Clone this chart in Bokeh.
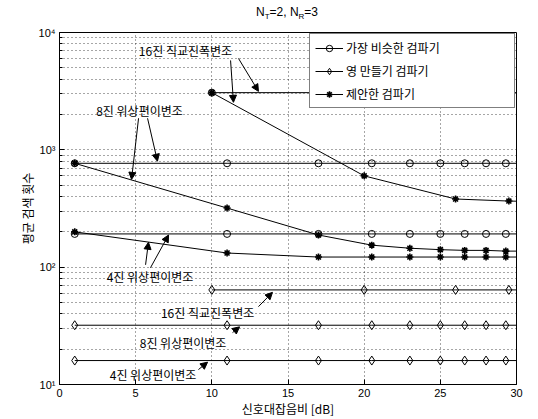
from bokeh.plotting import figure
from bokeh.layouts import column
from bokeh.models import (Range1d, FixedTicker, CustomJSTickFormatter, Legend, LegendItem,
                          Label, Arrow, NormalHead, Div)
from bokeh.embed import file_html
from bokeh.resources import INLINE

# ---------------- data ----------------
snr_psk = [1, 11, 17, 20.5, 23, 25, 26.6, 28, 29.3, 30.4]
snr_qam = [10, 20, 26, 29.5, 31.5]

ml_qam16 = [3072, 3072, 3072, 3072, 3072]
ml_psk8 = [768, 768, 768, 768, 768, 768, 768, 768, 768, 768]
ml_psk4 = [192, 192, 192, 192, 192, 192, 192, 192, 192, 192]

zf_qam16 = [64, 64, 64, 64, 64]
zf_psk8 = [32, 32, 32, 32, 32, 32, 32, 32, 32, 32]
zf_psk4 = [16, 16, 16, 16, 16, 16, 16, 16, 16, 16]

prop_qam16 = [3072, 600, 381, 366, 362]
prop_psk8 = [768, 319, 188, 154, 145, 141, 139, 139, 137, 137]
prop_psk4 = [200, 132, 122, 122, 122, 122, 122, 122, 122, 122]

legend_labels = ["가장 비슷한 검파기", "영 만들기 검파기", "제안한 검파기"]
x_ticks = [0, 5, 10, 15, 20, 25, 30]
y_ticks = [10, 100, 1000, 10000]
x_label = "신호대잡음비 [dB]"
y_label = "평균 검색 횟수"
title_html = ('N<sub style="font-size:8px">T</sub>=2, '
              'N<sub style="font-size:8px">R</sub>=3')

# annotation texts
ann_qam = "16진 직교진폭변조"
ann_psk8 = "8진 위상편이변조"
ann_psk4 = "4진 위상편이변조"

# ---------------- title (HTML for subscripts) ----------------
title = Div(text='<div style="position:relative; left:256px; top:4px; '
                 'font-family:\'Liberation Sans\'; font-size:12px; line-height:14px; '
                 'color:black; white-space:nowrap;">' + title_html + '</div>',
            width=538, height=20, margin=0)

# ---------------- figure ----------------
p = figure(width=538, height=399, output_backend="svg", toolbar_location=None,
           y_axis_type="log", x_range=Range1d(0, 30), y_range=Range1d(10, 10000),
           min_border_left=59, min_border_right=22, min_border_top=12, min_border_bottom=34)
p.background_fill_color = "white"
p.border_fill_color = "white"
p.outline_line_color = "black"
p.outline_line_width = 1

p.xaxis.ticker = FixedTicker(ticks=x_ticks)
minor = [m * 10 ** k for k in (1, 2, 3) for m in range(2, 10)]
p.yaxis.ticker = FixedTicker(ticks=y_ticks, minor_ticks=minor)
p.yaxis.formatter = CustomJSTickFormatter(code="""
const e = Math.round(Math.log10(tick));
const s = {1: '\u00b9', 2: '\u00b2', 3: '\u00b3', 4: '\u2074'};
return '10' + s[e];
""")

for ax in (p.xaxis, p.yaxis):
    ax.axis_line_color = "black"
    ax.major_tick_line_color = "black"
    ax.minor_tick_line_color = "black"
    ax.major_tick_in = 5
    ax.major_tick_out = 0
    ax.minor_tick_in = 3
    ax.minor_tick_out = 0
    ax.major_label_text_font = "Liberation Sans"
    ax.major_label_text_font_size = "11px"
    ax.major_label_text_color = "black"
    ax.axis_label_text_font = "Noto Sans CJK KR"
    ax.axis_label_text_font_size = "12px"
    ax.axis_label_text_font_style = "normal"
    ax.axis_label_text_color = "black"

p.xaxis.axis_label = x_label
p.yaxis.axis_label = y_label
p.xaxis.major_label_standoff = 4
p.xaxis.axis_label_standoff = 0
p.yaxis.major_label_standoff = 4
p.yaxis.axis_label_standoff = 0

p.xgrid.grid_line_color = "black"
p.xgrid.grid_line_dash = "1 3"
p.xgrid.grid_line_alpha = 0.7
p.ygrid.grid_line_color = "black"
p.ygrid.grid_line_dash = "1 3"
p.ygrid.grid_line_alpha = 0.7
p.ygrid.minor_grid_line_color = "black"
p.ygrid.minor_grid_line_dash = "1 3"
p.ygrid.minor_grid_line_alpha = 0.7

LW = 1

def series(x, y, marker, size, fill=None, mlw=1):
    ln = p.line(x, y, line_color="black", line_width=LW)
    sc = p.scatter(x, y, marker=marker, size=size, line_color="black",
                   fill_color=fill, line_width=mlw)
    return ln, sc

ml = [series(snr_qam, ml_qam16, "circle", 7),
      series(snr_psk, ml_psk8, "circle", 7),
      series(snr_psk, ml_psk4, "circle", 7)]
zf = [series(snr_qam, zf_qam16, "diamond", 9),
      series(snr_psk, zf_psk8, "diamond", 9),
      series(snr_psk, zf_psk4, "diamond", 9)]
pr = [series(snr_qam, prop_qam16, "asterisk", 7, mlw=1.6),
      series(snr_psk, prop_psk8, "asterisk", 7, mlw=1.6),
      series(snr_psk, prop_psk4, "asterisk", 7, mlw=1.6)]

legend = Legend(items=[LegendItem(label=legend_labels[0], renderers=list(ml[1])),
                       LegendItem(label=legend_labels[1], renderers=list(zf[1])),
                       LegendItem(label=legend_labels[2], renderers=list(pr[1]))],
                location="top_right", margin=1, padding=5, spacing=6,
                glyph_width=28, glyph_height=16, label_height=16, label_width=163,
                label_standoff=3, border_line_color="black", border_line_width=1,
                background_fill_color="white", background_fill_alpha=1,
                label_text_font="Noto Sans CJK KR", label_text_font_size="12px",
                label_text_color="black")
p.add_layout(legend)

# ---------------- text annotations with arrows ----------------
def note(x, y, text):
    p.add_layout(Label(x=x, y=y, text=text, text_font="Noto Sans CJK KR",
                       text_font_size="12px", text_align="center",
                       text_baseline="middle", text_color="black"))

def arrow(x0, y0, x1, y1):
    p.add_layout(Arrow(x_start=x0, y_start=y0, x_end=x1, y_end=y1,
                       line_color="black", line_width=1,
                       end=NormalHead(size=7, fill_color="black", line_color="black")))

note(8.27, 7035, ann_qam)
arrow(11.23, 5781, 11.42, 2541)
arrow(11.75, 6010, 13.06, 3150)

note(5.25, 2173, ann_psk8)
arrow(5.19, 1858, 4.73, 560)
arrow(5.78, 1858, 6.43, 800)

note(5.94, 83, ann_psk4)
arrow(5.65, 104.7, 5.84, 163)
arrow(5.97, 98.8, 7.16, 188)

note(9.72, 41.0, ann_qam)
arrow(13.06, 46.1, 13.98, 61)

note(8.11, 22.8, ann_psk8)
arrow(11.36, 27.7, 11.82, 31)

note(6.14, 12.2, ann_psk4)
arrow(9.12, 13.4, 9.72, 15.5)

layout = column(title, p, spacing=0)
open("out.html", "w").write(file_html(layout, INLINE))
